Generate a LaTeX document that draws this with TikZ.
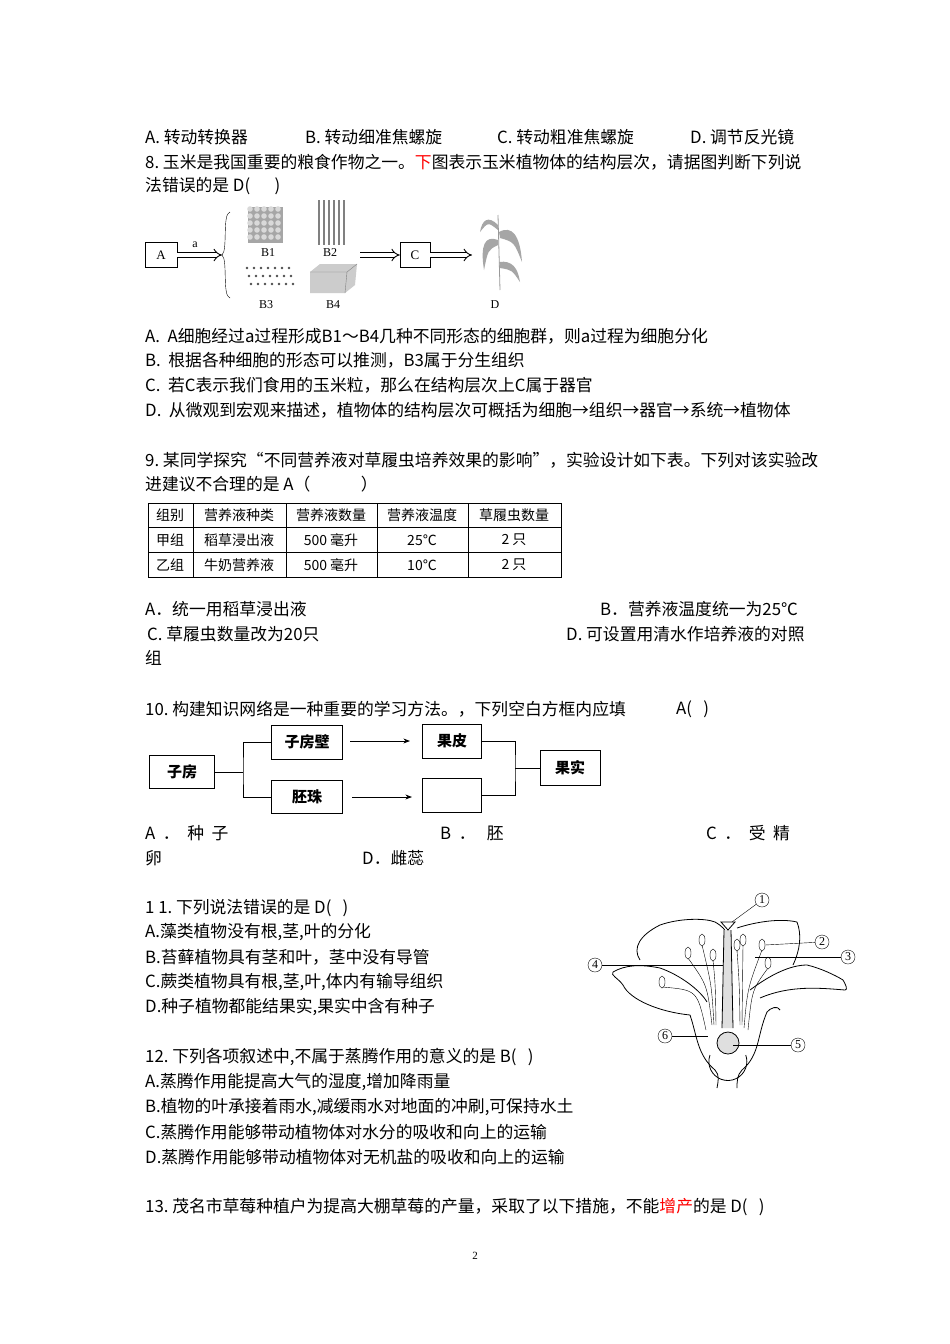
\documentclass[tikz,border=0pt]{standalone}
\usepackage{fontspec}
\setmainfont{Liberation Serif}
\newfontfamily\cjk{Noto Sans CJK SC}
\usetikzlibrary{arrows.meta,decorations.pathreplacing}
\begin{document}
\begin{tikzpicture}[x=1pt,y=-1pt,
 tx/.style={anchor=west,inner sep=0pt,font=\cjk\fontsize{16.8}{19}\selectfont},
 bx/.style={draw,thick,inner sep=0pt,font=\cjk\bfseries\fontsize{15}{18}\selectfont},
 sb/.style={draw,inner sep=0pt,font=\fontsize{13}{15}\selectfont},
 lb/.style={inner sep=0pt,font=\fontsize{12}{14}\selectfont},
 dbl/.style={draw=black,double=white,double distance=3.5pt,line width=0.9pt,-{Implies[length=7pt,width=12pt]}},
 cn/.style={draw,circle,inner sep=0.6pt,minimum size=14pt,font=\fontsize{12}{13}\selectfont},
 fl/.style={thick,line join=round}]
\useasboundingbox (0,0) rectangle (950,1344);
\fill[white] (0,0) rectangle (950,1344);
\node[tx] (l1a) at (145,137) {A. 转动转换器};
\node[tx] (l1b) at (305,137) {B. 转动细准焦螺旋};
\node[tx] (l1c) at (497,137) {C. 转动粗准焦螺旋};
\node[tx] (l1d) at (690,137) {D. 调节反光镜};
\node[tx] (q8) at (145,162) {8.\ 玉米是我国重要的粮食作物之一。\textcolor{red}{下}图表示玉米植物体的结构层次，请据图判断下列说};
\node[tx] (q8b) at (145,186) {法错误的是 D(\quad\ \ )};
% diagram 8
\node[sb,minimum width=32pt,minimum height=25pt] (A) at (161,255) {A};
\node[sb,minimum width=30pt,minimum height=25pt] (C) at (415,255) {C};
\coordinate (br) at (222,255);
\draw[dbl] (A.east) -- (br);
\node[lb] (la) at (195,245) {a};
\draw (230,212) .. controls (222,214) and (228,250) .. (br) .. controls (228,260) and (222,296) .. (230,298);
\fill[gray!70] (248,207) rectangle (283,243);
\foreach \i in {0,...,4}{\foreach \j in {0,...,4}{\fill[gray!30] (250+\i*7,209+\j*7) circle (2.8);}}
\node[lb] (B1) at (268,253) {B1};
\foreach \i in {0,...,6}{\foreach \j in {0,...,2}{\fill[black!70] (247+\i*7+\j*2,268+\j*8) circle (1.3);}}
\node[lb] (B3) at (266,305) {B3};
\foreach \i in {0,...,5}{\draw[gray,line width=2pt] (319+\i*5,200) -- (319+\i*5,245);}
\node[lb] (B2) at (330,253) {B2};
\fill[gray!40] (310,272) -- (320,264) -- (357,264) -- (355,285) -- (345,293) -- (310,293) -- cycle;
\draw[gray] (310,272) -- (347,272) -- (357,264) (347,272) -- (345,293);
\node[lb] (B4) at (333,305) {B4};
\coordinate (c1) at (360,255);
\draw[dbl] (c1) -- (C.west);
\coordinate (pl) at (472,255);
\draw[dbl] (C.east) -- (pl);
\draw[gray!80,thick] (500,290) -- (498,215);
\fill[gray!70] (498,240) .. controls (485,235) and (480,245) .. (484,270) .. controls (488,250) .. (498,245);
\fill[gray!70] (499,232) .. controls (512,225) and (520,235) .. (522,262) .. controls (514,242) .. (500,238);
\fill[gray!70] (498,225) .. controls (488,215) and (482,220) .. (480,232) .. controls (488,222) .. (498,230);
\fill[gray!70] (499,262) .. controls (512,260) and (518,268) .. (520,282) .. controls (512,270) .. (500,268);
\node[lb] (D) at (495,305) {D};
\node[tx] (o8a) at (145,336) {A.\ \ A细胞经过a过程形成B1～B4几种不同形态的细胞群，则a过程为细胞分化};
\node[tx] (o8b) at (145,360) {B.\ \ 根据各种细胞的形态可以推测，B3属于分生组织};
\node[tx] (o8c) at (145,385) {C.\ \ 若C表示我们食用的玉米粒，那么在结构层次上C属于器官};
\node[tx] (o8d) at (145,410) {D.\ \ 从微观到宏观来描述，植物体的结构层次可概括为细胞→组织→器官→系统→植物体};
% Q9
\node[tx] (q9) at (145,460) {9.\ 某同学探究“不同营养液对草履虫培养效果的影响”，实验设计如下表。下列对该实验改};
\node[tx] (q9b) at (145,484) {进建议不合理的是 A（\qquad\quad）};
\draw[thick] (148,503) rectangle (561,577);
\draw (148,527) -- (561,527) (148,552) -- (561,552);
\foreach \x in {193,286,377,468}{\draw (\x,503) -- (\x,577);}
\tikzset{tc/.style={inner sep=0pt,font=\cjk\fontsize{14}{15}\selectfont}}
\node[tc] (t11) at (170,515) {组别};
\node[tc] (t12) at (239,515) {营养液种类};
\node[tc] (t13) at (331,515) {营养液数量};
\node[tc] (t14) at (422,515) {营养液温度};
\node[tc] (t15) at (514,515) {草履虫数量};
\node[tc] (t21) at (170,540) {甲组};
\node[tc] (t22) at (239,540) {稻草浸出液};
\node[tc] (t23) at (331,540) {500 毫升};
\node[tc] (t24) at (422,540) {25℃};
\node[tc] (t25) at (514,540) {2 只};
\node[tc] (t31) at (170,565) {乙组};
\node[tc] (t32) at (239,565) {牛奶营养液};
\node[tc] (t33) at (331,565) {500 毫升};
\node[tc] (t34) at (422,565) {10℃};
\node[tc] (t35) at (514,565) {2 只};
\node[tx] (o9a) at (145,609) {A．统一用稻草浸出液};
\node[tx] (o9b) at (600,609) {B．营养液温度统一为25℃};
\node[tx] (o9c) at (147,634) {C. 草履虫数量改为20只};
\node[tx] (o9d) at (566,634) {D. 可设置用清水作培养液的对照};
\node[tx] (o9e) at (145,658) {组};
% Q10
\node[tx] (q10) at (145,709) {10.\ 构建知识网络是一种重要的学习方法。，下列空白方框内应填};
\node[tx] (q10b) at (676,709) {A(\ \ \ )};
\node[bx,minimum width=65pt,minimum height=33pt] (zf) at (182,772) {子房};
\node[bx,minimum width=71pt,minimum height=34pt] (zfb) at (307,742) {子房壁};
\node[bx,minimum width=71pt,minimum height=33pt] (pz) at (307,797) {胚珠};
\node[bx,minimum width=59pt,minimum height=34pt] (gp) at (452,741) {果皮};
\node[bx,minimum width=59pt,minimum height=34pt] (kb) at (452,795) {};
\node[bx,minimum width=60pt,minimum height=35pt] (gs) at (570,768) {果实};
\draw[thick] (zf.east) -- (243,772);
\draw[thick] (zfb.west) -| (243,772) |- (pz.west);
\coordinate (j2) at (515,768);
\draw[thick] (gp.east) -| (j2) |- (kb.east);
\draw[thick] (j2) -- (gs.west);
\draw[thick,-{Stealth}] (350,741) -- (410,741);
\draw[thick,-{Stealth}] (352,797) -- (412,797);
\node[tx] (o10a) at (145,833) {A\ \ ．\ \ 种\ \ 子};
\node[tx] (o10b) at (440,833) {B\ \ ．\ \ \ 胚};
\node[tx] (o10c) at (706,833) {C\ \ ．\ \ 受\ \ 精};
\node[tx] (o10d) at (145,858) {卵};
\node[tx] (o10e) at (362,858) {D．雌蕊};
% Q11
\node[tx] (q11) at (145,908) {1 1.\ 下列说法错误的是 D(\ \ \ )};
\node[tx] (o11a) at (145,932) {A.藻类植物没有根,茎,叶的分化};
\node[tx] (o11b) at (145,957) {B.苔藓植物具有茎和叶，茎中没有导管};
\node[tx] (o11c) at (145,982) {C.蕨类植物具有根,茎,叶,体内有输导组织};
\node[tx] (o11d) at (145,1007) {D.种子植物都能结果实,果实中含有种子};
% flower
\draw[fl] (690,1015) .. controls (660,1012) and (630,1000) .. (623,985) .. controls (618,978) and (610,975) .. (613,972) .. controls (625,965) and (640,964) .. (660,968) .. controls (680,975) and (700,990) .. (707,1002);
\draw[fl] (640,960) .. controls (632,948) and (640,935) .. (660,925) .. controls (680,918) and (705,918) .. (715,922) .. controls (722,926) and (726,930) .. (727,935);
\draw[fl] (737,928) .. controls (755,922) and (780,918) .. (797,922) .. controls (802,935) and (800,950) .. (793,965);
\draw[fl] (750,990) .. controls (770,975) and (790,965) .. (807,965) .. controls (820,968) and (835,975) .. (843,980) .. controls (846,985) and (848,990) .. (845,990) .. controls (820,988) and (790,985) .. (760,998);
\draw[fl] (690,1015) .. controls (697,1035) and (697,1055) .. (715,1070) .. controls (720,1075) and (718,1082) .. (717,1088);
\draw[fl] (767,1012) .. controls (757,1035) and (760,1055) .. (742,1070) .. controls (737,1075) and (737,1082) .. (737,1088);
\draw[fl] (767,1012) .. controls (770,1008) and (778,1005) .. (780,1010);
\fill[gray!25] (724,930) -- (731,930) -- (733,1028) -- (722,1028) -- cycle;
\draw[thick] (724,930) -- (722,1028) (731,930) -- (733,1028);
\draw[thick] (721,922) -- (735,922) -- (728,930) -- cycle;
\draw[thick] (710,1055) arc (200:-20:19);
\draw[thick,fill=gray!25] (728,1043) circle (11);
\foreach \bx/\by/\ax/\ay in {712/1025/688/953, 714/1025/702/940, 716/1025/713/955, 706/1030/662/982, 740/1025/737/945, 742/1025/743/940, 744/1028/762/945, 748/1030/768/963}{
 \draw (\bx,\by) .. controls (\bx+0.2*\ax-0.2*\bx,\by-40) .. (\ax,\ay+5);
 \draw[fill=white] (\ax,\ay) ellipse (3 and 6);}
\node[cn] (n1) at (762,900) {1};
\node[cn] (n2) at (822,942) {2};
\node[cn] (n3) at (848,957) {3};
\node[cn] (n4) at (595,965) {4};
\node[cn] (n5) at (798,1045) {5};
\node[cn] (n6) at (665,1036) {6};
\coordinate (p1) at (732,922); \draw (n1) -- (p1);
\coordinate (p2) at (765,945); \draw (n2) -- (p2);
\coordinate (p3) at (755,957); \draw (n3) -- (p3);
\coordinate (p4) at (723,965); \draw (n4) -- (p4);
\coordinate (p5) at (733,1045); \draw (n5) -- (p5);
\coordinate (p6) at (708,1036); \draw (n6) -- (p6);
% Q12
\node[tx] (q12) at (145,1057) {12.\ 下列各项叙述中,不属于蒸腾作用的意义的是 B(\ \ \ )};
\node[tx] (o12a) at (145,1082) {A.蒸腾作用能提高大气的湿度,增加降雨量};
\node[tx] (o12b) at (145,1107) {B.植物的叶承接着雨水,减缓雨水对地面的冲刷,可保持水土};
\node[tx] (o12c) at (145,1132) {C.蒸腾作用能够带动植物体对水分的吸收和向上的运输};
\node[tx] (o12d) at (145,1157) {D.蒸腾作用能够带动植物体对无机盐的吸收和向上的运输};
\node[tx] (q13) at (145,1207) {13.\ 茂名市草莓种植户为提高大棚草莓的产量，采取了以下措施，不能\textcolor{red}{增产}的是 D(\ \ \ )};
\node[inner sep=0pt,font=\fontsize{11}{12}\selectfont] (pg) at (475,1256) {2};
\end{tikzpicture}
\end{document}
